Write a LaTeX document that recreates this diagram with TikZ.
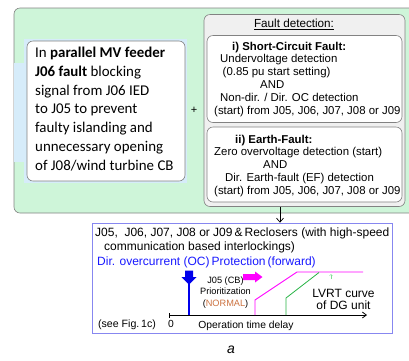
\documentclass[tikz,border=0pt]{standalone}
\usepackage{fontspec}
\setmainfont{Liberation Sans}
\newfontfamily\calibrifont{Carlito}
\usetikzlibrary{arrows.meta}
\definecolor{mint}{RGB}{206,245,217}
\definecolor{lblue}{RGB}{214,236,250}
\definecolor{boxgray}{RGB}{130,130,130}
\definecolor{fillgray}{RGB}{240,240,240}
\definecolor{frameblue}{RGB}{135,135,240}
\definecolor{txtblue}{RGB}{25,25,255}
\definecolor{arrblue}{RGB}{0,0,235}
\definecolor{normalc}{RGB}{205,115,65}
\definecolor{lvgreen}{RGB}{40,180,70}
\definecolor{tinygreen}{RGB}{130,220,150}
\definecolor{magc}{RGB}{255,0,255}
\tikzset{
  panel/.style={draw=boxgray, line width=0.6pt, rounded corners=6pt, inner sep=0pt},
  ltxt/.style={anchor=base west, inner sep=0pt, font=\calibrifont\fontsize{14.9}{19}\selectfont},
  rtxt/.style={anchor=base west, inner sep=0pt, font=\fontsize{11.4}{13}\selectfont},
  btxt/.style={anchor=base west, inner sep=0pt, font=\fontsize{12}{14}\selectfont},
  stxt/.style={anchor=base, inner sep=0pt, font=\fontsize{9.2}{11}\selectfont},
  axtxt/.style={anchor=base, inner sep=0pt, font=\fontsize{10.3}{12}\selectfont},
}
\begin{document}
\begin{tikzpicture}[x=1pt,y=-1pt]
\useasboundingbox (0,0) rectangle (409,360);
% green outer panel
\node[panel, fill=mint, minimum width=406pt, minimum height=205pt] (green) at (217,110.5) {};
% light blue backdrop
\fill[lblue] (24,39) rectangle (187,183);
\fill[lblue] (14.3,63) rectangle (24,162);
% left text box
\node[panel, fill=white, minimum width=158pt, minimum height=140pt] (leftbox) at (106,111) {};
\node[ltxt] (l1) at (35,57.5) {In \textbf{parallel MV feeder}};
\node[ltxt] (l2) at (35,76.3) {\textbf{J06 fault} blocking};
\node[ltxt] (l3) at (35,95.1) {signal from J06 IED};
\node[ltxt] (l4) at (35,113.9) {to J05 to prevent};
\node[ltxt] (l5) at (35,132.7) {faulty islanding and};
\node[ltxt] (l6) at (35,151.5) {unnecessary opening};
\node[ltxt] (l7) at (35,170.3) {of J08/wind turbine CB};
\node[inner sep=0pt, font=\fontsize{11}{12}\selectfont] (plus) at (194,110) {+};
% fault detection panel
\node[panel, fill=fillgray, minimum width=201pt, minimum height=192pt] (fd) at (304.5,110.5) {};
\node[inner sep=0pt, font=\fontsize{11.7}{13}\selectfont] (fdt) at (294,24) {\underline{Fault detection:}};
\node[panel, fill=white, minimum width=195pt, minimum height=87pt] (boxi) at (304.5,79) {};
\node[panel, fill=white, minimum width=195pt, minimum height=75pt] (boxii) at (304.5,164.5) {};
\node[rtxt] (i1) at (232,50) {\textbf{i) Short-Circuit Fault:}};
\node[rtxt] (i2) at (220,62.8) {Undervoltage detection};
\node[rtxt] (i3) at (222.5,75.6) {(0.85 pu start setting)};
\node[rtxt] (i4) at (260,88.4) {AND};
\node[rtxt] (i5) at (220,101.2) {Non-dir. / Dir. OC detection};
\node[rtxt] (i6) at (214,114) {(start) from J05, J06, J07, J08 or J09};
\node[rtxt] (ii1) at (235,143) {\textbf{ii) Earth-Fault:}};
\node[rtxt] (ii2) at (214,155.8) {Zero overvoltage detection (start)};
\node[rtxt] (ii3) at (263,168.6) {AND};
\node[rtxt] (ii4) at (225,181.4) {Dir. Earth-fault (EF) detection};
\node[rtxt] (ii5) at (214,194.2) {(start) from J05, J06, J07, J08 or J09};
% bottom panel
\node[draw=frameblue, line width=0.7pt, fill=white, minimum width=300pt, minimum height=110pt, inner sep=0pt] (bottom) at (242,278) {};
\coordinate (ax) at (280,0);
\draw[line width=0.7pt, -{Straight Barb[length=4pt,width=7pt]}] (fd.south -| ax) -- (bottom.north -| ax);
\node[btxt] (b1) at (95,236) {J05,\ \ J06, J07, J08 or J09\,\&\,Reclosers (with high-speed};
\node[btxt] (b2) at (104,250) {communication based interlockings)};
\node[btxt, text=txtblue] (b3) at (97,265) {Dir. overcurrent (OC)\,Protection\,(forward)};
% axis
\coordinate (ax0) at (169,315);
\coordinate (ax1) at (367,315);
\draw[line width=0.8pt, {Bar[width=5pt]}-{Straight Barb[length=4pt,width=6pt]}] (ax0) -- (ax1);
\node[axtxt] (zero) at (171,327.5) {0};
\node[axtxt] (otd) at (246,328) {Operation time delay};
\node[anchor=base, inner sep=0pt, font=\fontsize{10.6}{12}\selectfont] (see) at (127,327.5) {(see Fig.\,1c)};
% blue arrow and line
\fill[arrblue] (185,270.5) -- (193,270.5) -- (193,277) -- (196.5,277) -- (189,284.5) -- (181.5,277) -- (185,277) -- cycle;
\draw[arrblue, line width=1.4pt] (189,284) -- (189,315);
% J05 labels
\node[stxt] (p1) at (225.5,283.5) {J05 (CB)};
\node[stxt] (p2) at (225.5,294.8) {Prioritization};
\node[stxt] (p3) at (225.5,306) {(\textcolor{normalc}{NORMAL})};
% magenta arrow
\fill[magc] (243,274) -- (255,274) -- (255,271.5) -- (262.5,277) -- (255,282.5) -- (255,280) -- (243,280) -- cycle;
% curves
\draw[magc, line width=0.9pt] (255,315) -- (255,300) -- (297,272) -- (363,272);
\draw[lvgreen, line width=0.8pt] (286,315) -- (286,298) -- (319,272.5);
\draw[tinygreen, line width=0.5pt, -{Straight Barb[length=1.5pt,width=3pt]}] (331,279) -- (331,274);
\node[anchor=base, inner sep=0pt, font=\fontsize{12}{12}\selectfont] (lv1) at (343.5,297.5) {LVRT curve};
\node[anchor=base, inner sep=0pt, font=\fontsize{12}{12}\selectfont] (lv2) at (343.5,309.5) {of DG unit};
% caption
\node[inner sep=0pt, font=\itshape\fontsize{14}{14}\selectfont] (cap) at (231,350) {a};
\end{tikzpicture}
\end{document}
